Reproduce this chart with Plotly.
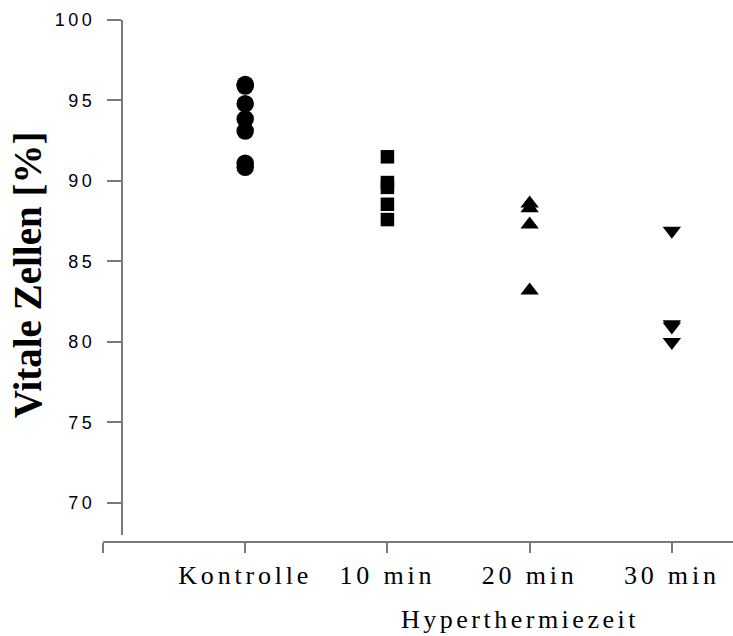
import json
import plotly.graph_objects as go

# ---- data ----
categories = ["Kontrolle", "10 min", "20 min", "30 min"]
kontrolle = [96.0, 95.9, 94.8, 93.85, 93.1, 91.1, 90.85]
min10 = [91.5, 89.9, 89.6, 88.55, 87.6]
min20 = [88.6, 88.3, 87.3, 83.2]
min30 = [86.9, 81.1, 80.95, 80.0]
y_ticks = [70, 75, 80, 85, 90, 95, 100]
y_title = "Vitale Zellen [%]"
x_title = "Hyperthermiezeit"

series = [kontrolle, min10, min20, min30]
symbols = ["circle", "square", "triangle-up", "triangle-down"]
sizes = [17.5, 13.5, 16, 16]

W, H = 733, 636
L, T, B = 103, 19.5, 94          # x axis line sits at H-B = 542 px
plot_h = H - T - B
axis_gray = "#7a7a7a"

fig = go.Figure()
for i, (vals, sym, sz) in enumerate(zip(series, symbols, sizes)):
    fig.add_trace(go.Scatter(
        x=[i + 1] * len(vals), y=vals, mode="markers",
        marker=dict(symbol=sym, size=sz, color="black", line=dict(width=0)),
        name=categories[i], showlegend=False, hoverinfo="x+y"))

def px_x(p):
    return (p - L) / (W - L)

def px_y(p):
    return (H - B - p) / plot_h

fig.update_layout(
    width=W, height=H,
    margin=dict(l=L, r=0, t=T, b=B, pad=0),
    paper_bgcolor="white", plot_bgcolor="white",
    showlegend=False,
    xaxis=dict(
        range=[0, 4.43], tickmode="array", tickvals=[0, 1, 2, 3, 4],
        ticktext=[""] + categories,
        ticks="outside", ticklen=10, tickwidth=1.5, tickcolor=axis_gray,
        showline=True, linecolor=axis_gray, linewidth=2,
        showgrid=False, zeroline=False,
        anchor="free", position=0,
        tickfont=dict(family="Liberation Serif", size=26, color="black"),
        ticklabelstandoff=0,
    ),
    yaxis=dict(
        range=[68, 100], domain=[(542 - 535) / plot_h, 1],
        tickmode="array", tickvals=y_ticks,
        ticks="outside", ticklen=14, tickwidth=1.5, tickcolor=axis_gray,
        showline=True, linecolor=axis_gray, linewidth=2,
        showgrid=False, zeroline=False,
        anchor="free", position=px_x(122),
        tickfont=dict(family="Liberation Sans", size=18, color="black"),
        ticklabelstandoff=8,
    ),
    annotations=[
        dict(text=y_title, xref="paper", yref="paper",
             x=px_x(27), y=px_y(275), xanchor="center", yanchor="middle",
             textangle=-90, showarrow=False,
             font=dict(family="Liberation Serif", size=39, color="black", weight="bold")),
        dict(text=x_title, xref="paper", yref="paper",
             x=px_x(520), y=px_y(603), xanchor="center", yanchor="top",
             showarrow=False,
             font=dict(family="Liberation Serif", size=26, color="black")),
    ],
)

css = (".xtick text{letter-spacing:3.8px}"
       ".ytick text{letter-spacing:3.5px}"
       "g.annotation[data-index='1'] text{letter-spacing:3.5px}")
post = ("var s=document.createElement('style');s.textContent=%s;"
        "document.head.appendChild(s);" % json.dumps(css))
fig.write_html("out.html", post_script=post)
